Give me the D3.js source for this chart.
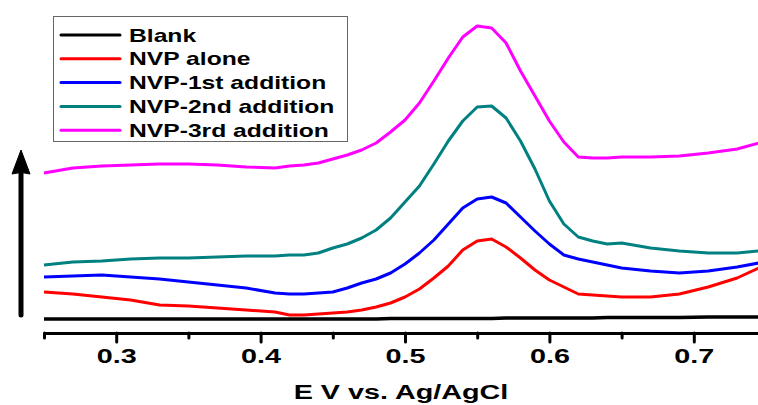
<!DOCTYPE html>
<html>
<head>
<meta charset="utf-8">
<script src="https://cdn.jsdelivr.net/npm/d3@7"></script>
<style>
  html, body { margin: 0; padding: 0; background: #fff; }
  svg { display: block; }
  text { font-family: "Liberation Sans", Arial, sans-serif; font-weight: bold; fill: #000; }
</style>
</head>
<body>
<svg id="chart" width="758" height="405"></svg>
<script>
// ---------------- data ----------------
const potential = [0.25,0.27,0.29,0.31,0.33,0.35,0.37,0.39,0.41,0.42,0.43,0.44,0.45,0.46,0.47,0.48,0.49,0.50,0.51,0.52,0.53,0.54,0.55,0.56,0.57,0.58,0.59,0.60,0.61,0.62,0.63,0.64,0.65,0.67,0.69,0.71,0.73,0.745];

const blank  = [0,0,0,0,0,0,0,0,0,0,0,0,0,0,0,0,0.5,0.5,0.5,0.5,0.5,0.5,0.5,0.5,1,1,1,1,1,1,1,1.5,1.5,1.5,1.5,2,2,2];
const nvpAlone = [27,25,22,19,14,13,11,9,7,4,4,5,6,7,9,12,16,22,30,41,53,69,78,80,72,61,49,39,32,25,24,23,22,22,25,32,41,51];
const nvp1st = [42,43,44,42,40,37,34,31,26,25,25,26,27,31,36,40,46,55,66,79,95,111,120,122,116,102,88,75,64,60,57,54,51,48,46,48,52,56];
const nvp2nd = [54,57,58,60,61,61,62,63,63,64,64,66,71,75,81,89,101,117,133,155,178,198,212,213,201,178,150,118,95,82,78,75,76,71,68,66,66,68];
const nvp3rd = [146,151,153,154,155,155,154,152,151,153,154,156,160,164,169,176,187,199,216,238,261,282,293,291,276,248,223,198,177,162,161,161,162,162,163,166,170,176];

const seriesNames = ["Blank","NVP alone","NVP-1st addition","NVP-2nd addition","NVP-3rd addition"];
const seriesColors = ["#000000","#ff0000","#0000ff","#008080","#ff00ff"];
const seriesValues = [blank, nvpAlone, nvp1st, nvp2nd, nvp3rd];

const majorTicks = [0.3,0.4,0.5,0.6,0.7];
const minorTicks = [0.25,0.35,0.45,0.55,0.65];
const xTitle = "E V vs. Ag/AgCl";

// ---------------- layout ----------------
const svg = d3.select("#chart");
const SX = 1.37; // horizontal stretch of the original lettering

const x = d3.scaleLinear().domain([0.25, 0.75]).range([44, 766]);
const y = d3.scaleLinear().domain([0, 300]).range([319, 19]);
const axisY = 333;

// curves
const line = d3.line().x((d, i) => x(potential[i])).y(d => y(d));
seriesValues.forEach((vals, k) => {
  svg.append("path")
    .attr("d", line(vals))
    .attr("fill", "none")
    .attr("stroke", seriesColors[k])
    .attr("stroke-width", k === 0 ? 3.5 : 3)
    .attr("stroke-linejoin", "round");
});

// x axis (major)
const gMajor = svg.append("g").attr("transform", `translate(0,${axisY})`)
  .call(d3.axisBottom(x).tickValues(majorTicks).tickSize(9).tickSizeOuter(0).tickPadding(6).tickFormat(d3.format(".1f")));
gMajor.select(".domain").attr("stroke", "#000").attr("stroke-width", 3);
gMajor.selectAll(".tick line").attr("stroke", "#000").attr("stroke-width", 3).attr("stroke-linecap", "round");
gMajor.selectAll(".tick text")
  .attr("font-size", 21)
  .attr("font-family", "'Liberation Sans', Arial, sans-serif")
  .attr("font-weight", "bold")
  .attr("fill", "#000")
  .attr("transform", `scale(${SX},1)`);

// minor ticks
const gMinor = svg.append("g").attr("transform", `translate(0,${axisY})`)
  .call(d3.axisBottom(x).tickValues(minorTicks).tickSize(5).tickSizeOuter(0).tickFormat(""));
gMinor.select(".domain").remove();
gMinor.selectAll(".tick line").attr("stroke", "#000").attr("stroke-width", 3).attr("stroke-linecap", "round");

// axis title
svg.append("text")
  .attr("transform", `translate(401,399) scale(${SX},1)`)
  .attr("text-anchor", "middle")
  .attr("font-size", 21)
  .text(xTitle);

// upward arrow
svg.append("line")
  .attr("x1", 21).attr("x2", 21).attr("y1", 315).attr("y2", 168)
  .attr("stroke", "#000").attr("stroke-width", 5).attr("stroke-linecap", "round");
svg.append("path")
  .attr("d", "M21,150 L30,174 Q21,171 12,174 Z")
  .attr("fill", "#000").attr("stroke", "#000").attr("stroke-width", 1).attr("stroke-linejoin", "round");

// legend
const legend = svg.append("g");
legend.append("rect")
  .attr("x", 53.5).attr("y", 16.5).attr("width", 294).attr("height", 125)
  .attr("fill", "#fff").attr("stroke", "#666").attr("stroke-width", 1);
seriesNames.forEach((name, k) => {
  const cy = 35 + k * 23.8;
  legend.append("line")
    .attr("x1", 61).attr("x2", 120).attr("y1", cy).attr("y2", cy)
    .attr("stroke", seriesColors[k]).attr("stroke-width", 3).attr("stroke-linecap", "round");
  legend.append("text")
    .attr("transform", `translate(129,${cy + 6.5}) scale(${SX},1)`)
    .attr("font-size", 18)
    .text(name);
});
</script>
</body>
</html>
